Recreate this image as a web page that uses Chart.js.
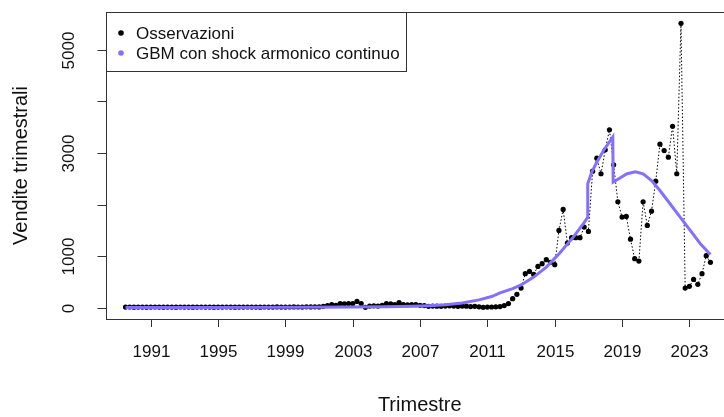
<!DOCTYPE html>
<html>
<head>
<meta charset="utf-8">
<script src="https://cdn.jsdelivr.net/npm/chart.js@4/dist/chart.umd.min.js"></script>
<style>
  html, body { margin: 0; padding: 0; background: #fff; overflow: hidden; }
  #wrap { width: 745px; height: 417px; }
</style>
</head>
<body>
<div id="wrap"><canvas id="vendite" width="745" height="417"></canvas></div>
<script>
// quarterly series, starts 1989 Q3
const startYear = 1989;
const startQuarter = 3;

const osservazioni = [
    10, 12, 9, 11, 10, 8, 11, 12, 10, 9,
    11, 10, 9, 12, 10, 11, 8, 10, 12, 11,
    10, 9, 11, 10, 12, 10, 9, 11, 10, 12,
    11, 10, 9, 12, 11, 10, 13, 11, 10, 12,
    14, 12, 11, 15, 13, 16, 14, 25, 40, 58,
    45, 78, 75, 80, 78, 120, 78, 5, 30, 35,
    30, 45, 78, 75, 60, 97, 58, 55, 60, 58,
    45, 40, 25, 30, 28, 25, 30, 35, 30, 25,
    30, 28, 20, 25, 15, 5, 10, 12, 15, 20,
    39, 78, 174, 258, 380, 659, 703, 645, 800, 853,
    930, 880, 833, 1498, 1905, 1252, 1357, 1357, 1357, 1562,
    1479, 2647, 2899, 2597, 3062, 3450, 2771, 2054, 1756, 1770,
    1329, 950, 903, 2054, 1595, 1872, 2453, 3171, 3048, 2919,
    3519, 2597, 5515, 380, 413, 548, 452, 659, 1008, 878
];

// fitted GBM curve with continuous harmonic shock
const modelTime = [
    1989.5, 1995, 2000, 2003, 2005, 2006.5, 2007.5, 2008.5, 2009.5, 2010.5,
    2011.25, 2011.75, 2012.5, 2013.0, 2013.75, 2014.5, 2015.3, 2016.1, 2016.7, 2016.95,
    2016.96, 2017.2, 2017.5, 2017.9, 2018.45, 2018.47, 2018.9, 2019.3, 2019.8, 2020.25,
    2020.75, 2021.25, 2021.85, 2022.45, 2023.05, 2023.65, 2024.25
];
const modelValue = [
    3, 4, 6, 10, 16, 25, 38, 58, 90, 150,
    215, 285, 370, 440, 593, 787, 1060, 1368, 1628, 1750,
    2403, 2628, 2822, 3048, 3310, 2434, 2519, 2597, 2636, 2597,
    2467, 2273, 2015, 1756, 1498, 1240, 1030
];

const xTicks = [1991, 1995, 1999, 2003, 2007, 2011, 2015, 2019, 2023];
const yTicks = [0, 1000, 2000, 3000, 4000, 5000];
const yLabels = ["0", "1000", "", "3000", "", "5000"];

const labelObs = "Osservazioni";
const labelModel = "GBM con shock armonico continuo";
const titleX = "Trimestre";
const titleY = "Vendite trimestrali";

const modelColor = "#8470FF";
const font = '"Liberation Sans", Arial, sans-serif';

const obsPoints = osservazioni.map((v, i) => ({
    x: startYear + (startQuarter - 1 + i) / 4,
    y: v
}));
const modelPoints = modelTime.map((t, i) => ({ x: t, y: modelValue[i] }));

// base-graphics style frame: box, outward ticks, rotated y labels, legend
const baseAxes = {
    id: "baseAxes",
    afterDraw(chart) {
        const { ctx, chartArea: a, scales: { x, y } } = chart;
        ctx.save();
        ctx.strokeStyle = "#333";
        ctx.lineWidth = 1;
        ctx.fillStyle = "#111";

        ctx.strokeRect(Math.round(a.left) + 0.5, Math.round(a.top) + 0.5,
            Math.round(a.right - a.left), Math.round(a.bottom - a.top));

        ctx.font = "17px " + font;
        ctx.textAlign = "center";
        ctx.textBaseline = "middle";
        xTicks.forEach(t => {
            const px = Math.round(x.getPixelForValue(t)) + 0.5;
            ctx.beginPath();
            ctx.moveTo(px, Math.round(a.bottom) + 0.5);
            ctx.lineTo(px, a.bottom + 8);
            ctx.stroke();
            ctx.fillText(String(t), px, 352);
        });

        yTicks.forEach((v, i) => {
            const py = Math.round(y.getPixelForValue(v)) + 0.5;
            ctx.beginPath();
            ctx.moveTo(Math.round(a.left) + 0.5, py);
            ctx.lineTo(a.left - 8, py);
            ctx.stroke();
            if (yLabels[i]) {
                ctx.save();
                ctx.translate(69, py);
                ctx.rotate(-Math.PI / 2);
                ctx.fillText(yLabels[i], 0, 0);
                ctx.restore();
            }
        });

        ctx.font = "20px " + font;
        ctx.fillText(titleX, (a.left + a.right) / 2, 405);
        ctx.save();
        ctx.translate(21, (a.top + a.bottom) / 2);
        ctx.rotate(-Math.PI / 2);
        ctx.fillText(titleY, 0, 0);
        ctx.restore();

        // legend, top left corner of the plot region
        const lx = Math.round(a.left) + 0.5, ly = Math.round(a.top) + 0.5;
        ctx.fillStyle = "#fff";
        ctx.fillRect(lx, ly, 300, 59);
        ctx.strokeRect(lx, ly, 300, 59);
        ctx.font = "17px " + font;
        ctx.textAlign = "left";
        [[labelObs, "#000", 33], [labelModel, modelColor, 53]].forEach(([txt, col, ty]) => {
            ctx.fillStyle = col;
            ctx.beginPath();
            ctx.arc(121, ty, 2.8, 0, Math.PI * 2);
            ctx.fill();
            ctx.fillStyle = "#111";
            ctx.fillText(txt, 136, ty + 1);
        });
        ctx.restore();
    }
};

new Chart(document.getElementById("vendite"), {
    type: "line",
    data: {
        datasets: [
            {
                label: labelModel,
                data: modelPoints,
                borderColor: modelColor,
                borderWidth: 3,
                pointRadius: 0,
                tension: 0,
                fill: false,
                order: 0
            },
            {
                label: labelObs,
                data: obsPoints,
                borderColor: "#000",
                borderWidth: 1,
                borderDash: [1.5, 2],
                pointRadius: 2.6,
                pointBorderWidth: 0,
                pointBackgroundColor: "#000",
                tension: 0,
                fill: false,
                order: 1
            }
        ]
    },
    options: {
        responsive: false,
        animation: false,
        devicePixelRatio: 1,
        layout: { padding: { left: 105.5, top: 12, right: 11, bottom: 98 } },
        plugins: { legend: { display: false }, tooltip: { enabled: false } },
        scales: {
            x: { type: "linear", min: 1988.31, max: 2025.65, display: false },
            y: { type: "linear", min: -220.6, max: 5735.6, display: false }
        }
    },
    plugins: [baseAxes]
});
</script>
</body>
</html>
